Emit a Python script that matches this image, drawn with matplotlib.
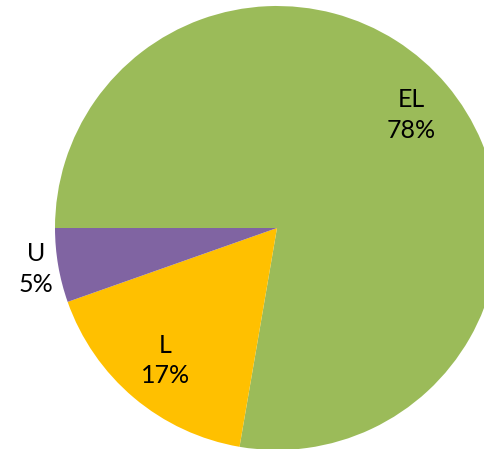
import numpy as np
from matplotlib import pyplot as plt

labels = ["EL", "L", "U"]
values = [77.7, 16.9, 5.4]
colors = ["#9BBB59", "#FFC000", "#8064A2"]
label_dist = [0.79, 0.78, 1.1]

W, H = 484, 449
cx, cy, r = 277, 228, 222

fig = plt.figure(figsize=(W / 100, H / 100), dpi=100)
ax = fig.add_axes([0, 0, 1, 1])
wedges, _ = ax.pie(values, colors=colors, startangle=180, counterclock=False,
                   radius=1, center=(0, 0), wedgeprops=dict(linewidth=0))

total = sum(values)
for w, lab, v, d in zip(wedges, labels, values, label_dist):
    ang = np.deg2rad((w.theta1 + w.theta2) / 2)
    ax.text(d * np.cos(ang), d * np.sin(ang), f"{lab}\n{round(100 * v / total)}%",
            ha="center", va="center", fontsize=18, family="Lato",
            linespacing=1.4, color="black")

ax.set_xlim((0 - cx) / r, (W - cx) / r)
ax.set_ylim((cy - H) / r, cy / r)
ax.set_aspect("auto")
ax.axis("off")
fig.savefig("out.png", dpi=100)
